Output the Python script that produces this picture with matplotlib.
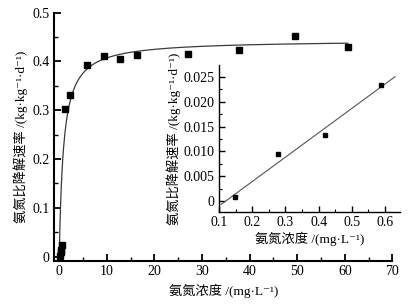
import matplotlib
matplotlib.use('Agg')
import matplotlib.pyplot as plt
import numpy as np
from matplotlib.ticker import MultipleLocator, FuncFormatter

plt.rcParams['font.family'] = ['Liberation Serif', 'DejaVu Serif', 'Noto Sans CJK SC']

# main data (ammonia concentration mg/L vs specific degradation rate)
main_x = [1.16, 2.36, 5.79, 9.3, 12.7, 16.3, 27.0, 37.8, 49.5, 60.6]
main_y = [0.303, 0.331, 0.393, 0.411, 0.405, 0.413, 0.416, 0.423, 0.453, 0.429]
# low-concentration data (shown in inset and near origin)
low_x = [0.149, 0.279, 0.419, 0.588]
low_y = [0.0008, 0.0094, 0.0134, 0.0233]
# fitted Monod curve parameters
vmax = 0.444
km = 0.9
curve_range = (0.0, 60.6)
line_range = (0.106, 0.63)

main_xticks = [0, 10, 20, 30, 40, 50, 60, 70]
main_yticks = [0, 0.1, 0.2, 0.3, 0.4, 0.5]
inset_xticks = [0.1, 0.2, 0.3, 0.4, 0.5, 0.6]
inset_yticks = [0, 0.005, 0.010, 0.015, 0.020, 0.025]

ylabel = '氨氮比降解速率 /(kg·kg⁻¹·d⁻¹)'
xlabel = '氨氮浓度 /(mg·L⁻¹)'

fig = plt.figure(figsize=(4.1, 3.05), dpi=100)
W, H = 410, 305
ax = fig.add_axes([54 / W, 1 - 260.5 / H, (392.5 - 54) / W, (260.5 - 12.7) / H])

xc = np.linspace(curve_range[0], curve_range[1], 400)
ax.plot(xc, vmax * xc / (km + xc), color='#3a3a3a', lw=0.9, zorder=2)
ax.plot(main_x, main_y, 's', color='black', ms=4.6, zorder=3)
ax.plot(low_x, low_y, 's', color='black', ms=4.6, zorder=3)

ax.set_xlim(-1.1, 70)
ax.set_ylim(-0.008, 0.5)
ax.set_xticks(main_xticks)
ax.set_yticks(main_yticks)
ax.xaxis.set_minor_locator(MultipleLocator(5))
ax.yaxis.set_minor_locator(MultipleLocator(0.05))
ax.yaxis.set_major_formatter(FuncFormatter(lambda v, p: '0' if abs(v) < 1e-9 else f'{v:.1f}'))
for s in ['top', 'right']:
    ax.spines[s].set_visible(False)
for s in ['left', 'bottom']:
    ax.spines[s].set_linewidth(1.5)
ax.tick_params(which='major', direction='in', length=5, width=1.3, labelsize=10, pad=3)
ax.tick_params(which='minor', direction='in', length=3, width=1.0)
ax.set_xlabel(xlabel, fontsize=9.5, labelpad=4)
ax.set_ylabel(ylabel, fontsize=9.5, labelpad=3)

# inset
ax2 = fig.add_axes([219 / W, 1 - 212 / H, (400 - 219) / W, (212 - 65) / H])
xl = np.linspace(line_range[0], line_range[1], 50)
coef = np.polyfit(low_x, low_y, 1)
ax2.plot(xl, np.polyval(coef, xl), color='#555555', lw=0.8)
ax2.plot(low_x, low_y, 's', color='black', ms=2.6)
ax2.set_xlim(0.1, 0.645)
ax2.set_ylim(-0.0022, 0.0274)
ax2.set_xticks(inset_xticks)
ax2.set_yticks(inset_yticks)
ax2.xaxis.set_minor_locator(MultipleLocator(0.05))
ax2.yaxis.set_minor_locator(MultipleLocator(0.0025))
ax2.xaxis.set_major_formatter(FuncFormatter(lambda v, p: f'{v:.1f}'))
ax2.yaxis.set_major_formatter(FuncFormatter(lambda v, p: '0' if abs(v) < 1e-9 else f'{v:.3f}'))
for s in ['top', 'right']:
    ax2.spines[s].set_visible(False)
for s in ['left', 'bottom']:
    ax2.spines[s].set_linewidth(1.0)
ax2.tick_params(which='major', direction='in', length=4, width=1.0, labelsize=10, pad=3)
ax2.tick_params(which='minor', direction='in', length=2.5, width=0.8)
ax2.patch.set_alpha(0)
ax2.set_xlabel(xlabel, fontsize=9.5, labelpad=2)
ax2.set_ylabel(ylabel, fontsize=9.5, labelpad=2)

fig.savefig('out.png', dpi=100)
